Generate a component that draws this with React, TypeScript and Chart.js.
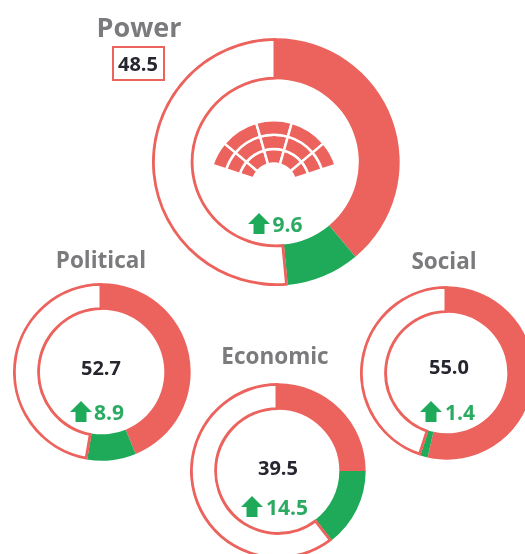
import React, { useEffect, useRef } from "react";
import { Chart, registerables } from "chart.js";

Chart.register(...registerables);

const categories = ["Power", "Political", "Economic", "Social"];
const scoreLabels = ["48.5", "52.7", "39.5", "55.0"];
const gainLabels = ["9.6", "8.9", "14.5", "1.4"];
const baseShare = [38.9, 43.8, 25.0, 53.6];
const gainShare = [9.6, 8.9, 14.5, 1.4];
const restShare = [51.5, 47.3, 60.5, 45.0];
const seatSpans = [22, 34, 32, 34, 22, 216];

const RED = "#EC625C";
const GREEN = "#1FAA5A";
const FONT = "'Open Sans', 'Noto Sans', sans-serif";

const layouts = [
  { cx: 276, cy: 161.5, r: 124, inner: 82.5, title: [139, 26, 27], score: [138, 64, 20], arrow: [248, 213], gain: [287.5, 224, 21] },
  { cx: 102, cy: 372, r: 89, inner: 62, title: [101, 260, 22.5], score: [101, 368, 20], arrow: [70, 401], gain: [109, 412, 21] },
  { cx: 278, cy: 471, r: 88, inner: 61, title: [275, 356, 22.5], score: [278, 468, 20], arrow: [241, 496], gain: [287, 507, 21] },
  { cx: 447, cy: 373, r: 87, inner: 60, title: [444, 261, 22.5], score: [449, 367, 20], arrow: [420, 401], gain: [460, 412, 21] },
];

function Ring({ index }: { index: number }) {
  const ref = useRef<HTMLCanvasElement>(null);
  const l = layouts[index];
  useEffect(() => {
    const chart = new Chart(ref.current!, {
      type: "doughnut",
      data: {
        labels: ["Base", "Gain", "Rest"],
        datasets: [
          {
            data: [baseShare[index], gainShare[index], restShare[index]],
            backgroundColor: [RED, GREEN, "#ffffff"],
            borderColor: RED,
            borderWidth: [0, 0, 2.5],
            borderAlign: "inner",
          },
        ],
      },
      options: {
        responsive: false,
        animation: false,
        cutout: l.inner,
        layout: { padding: 0 },
        plugins: { legend: { display: false }, tooltip: { enabled: false } },
      },
    } as any);
    return () => chart.destroy();
  }, [index]);
  return (
    <canvas
      ref={ref}
      width={l.r * 2}
      height={l.r * 2}
      style={{ position: "absolute", left: l.cx - l.r, top: l.cy - l.r, width: l.r * 2, height: l.r * 2 }}
    />
  );
}

function Seats() {
  const ref = useRef<HTMLCanvasElement>(null);
  useEffect(() => {
    const ds = () => ({
      data: seatSpans,
      backgroundColor: [RED, RED, RED, RED, RED, "rgba(0,0,0,0)"],
      borderColor: "#ffffff",
      borderWidth: [2.5, 2.5, 2.5, 2.5, 2.5, 0],
    });
    const chart = new Chart(ref.current!, {
      type: "doughnut",
      data: { labels: ["a", "b", "c", "d", "e", "gap"], datasets: [ds(), ds(), ds()] },
      options: {
        responsive: false,
        animation: false,
        rotation: -72,
        cutout: 21.5,
        layout: { padding: 0 },
        plugins: { legend: { display: false }, tooltip: { enabled: false } },
      },
    } as any);
    return () => chart.destroy();
  }, []);
  return (
    <canvas
      ref={ref}
      width={132}
      height={132}
      style={{ position: "absolute", left: 274 - 66, top: 185 - 66, width: 132, height: 132 }}
    />
  );
}

function Label({ x, y, size, color, weight, text }: { x: number; y: number; size: number; color: string; weight: number; text: string }) {
  return (
    <span
      style={{
        position: "absolute",
        left: x,
        top: y,
        transform: "translate(-50%, -50%)",
        fontFamily: FONT,
        fontSize: size,
        fontWeight: weight,
        color,
        lineHeight: 1,
        whiteSpace: "nowrap",
      }}
    >
      {text}
    </span>
  );
}

function Arrow({ x, y }: { x: number; y: number }) {
  return (
    <svg width={22} height={21} style={{ position: "absolute", left: x, top: y }}>
      <polygon points="11,0 22,11 16.5,11 16.5,21 5.5,21 5.5,11 0,11" fill={GREEN} />
    </svg>
  );
}

export default function App() {
  return (
    <div style={{ position: "fixed", left: 0, top: 0, width: 525, height: 554, overflow: "hidden", background: "#fff" }}>
      {categories.map((_, i) => (
        <Ring key={i} index={i} />
      ))}
      <Seats />
      <div
        style={{
          position: "absolute",
          left: 112,
          top: 46,
          width: 53,
          height: 35,
          boxSizing: "border-box",
          border: `2.5px solid ${RED}`,
        }}
      />
      {categories.map((name, i) => {
        const l = layouts[i];
        return (
          <React.Fragment key={name}>
            <Label x={l.title[0]} y={l.title[1]} size={l.title[2]} color="#7B7B7E" weight={700} text={name} />
            <Label x={l.score[0]} y={l.score[1]} size={l.score[2]} color="#26262E" weight={700} text={scoreLabels[i]} />
            <Arrow x={l.arrow[0]} y={l.arrow[1]} />
            <Label x={l.gain[0]} y={l.gain[1]} size={l.gain[2]} color="#2BAA62" weight={700} text={gainLabels[i]} />
          </React.Fragment>
        );
      })}
    </div>
  );
}
